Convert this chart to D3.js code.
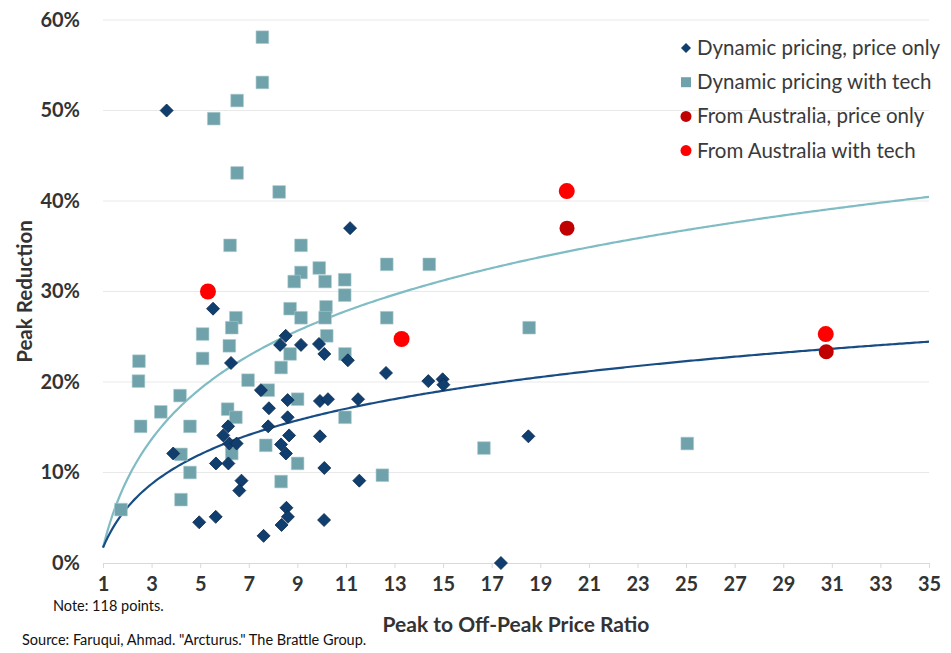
<!DOCTYPE html>
<html>
<head>
<meta charset="utf-8">
<script src="https://cdn.jsdelivr.net/npm/d3@7/dist/d3.min.js"></script>
<style>
  html, body { margin: 0; padding: 0; background: #fff; }
  svg { display: block; font-family: Lato, "Open Sans", sans-serif; }
</style>
</head>
<body>
<svg id="chart" width="951" height="653"></svg>
<script>
// Peak reduction (%) versus peak to off-peak price ratio
const priceOnly = [
  [3.62, 50.0], [17.38, 0.0], [11.17, 37.0], [5.53, 28.1], [6.27, 22.1],
  [8.52, 25.1], [8.29, 24.1], [9.15, 24.1], [9.89, 24.2], [10.11, 23.1],
  [11.08, 22.4], [7.50, 19.1], [7.83, 17.1], [8.60, 18.0], [9.93, 17.9],
  [10.26, 18.1], [11.50, 18.1], [6.15, 15.1], [5.95, 14.1], [6.20, 13.2],
  [6.50, 13.2], [7.80, 15.1], [8.60, 16.1], [8.66, 14.1], [8.33, 13.1],
  [8.53, 12.1], [9.93, 14.0], [3.89, 12.1], [5.65, 11.0], [6.16, 11.0],
  [10.11, 10.5], [6.70, 9.1], [6.61, 8.0], [8.55, 6.1], [8.61, 5.1],
  [8.35, 4.2], [4.96, 4.5], [5.64, 5.1], [10.10, 4.75], [7.61, 3.0],
  [12.65, 21.0], [14.39, 20.1], [14.98, 20.3], [15.01, 19.7], [18.51, 14.0],
  [11.55, 9.1]
];
const withTech = [
  [7.56, 58.1], [7.56, 53.1], [6.52, 51.1], [5.56, 49.1], [6.52, 43.1],
  [8.25, 41.0], [6.23, 35.1], [9.15, 35.1], [9.15, 32.1], [8.87, 31.1],
  [9.90, 32.6], [10.14, 31.1], [10.95, 31.3], [10.95, 29.6], [6.47, 27.1],
  [6.30, 26.0], [8.70, 28.1], [9.15, 27.1], [10.18, 28.3], [10.14, 27.1],
  [5.10, 25.3], [10.21, 25.1], [6.20, 24.0], [5.10, 22.6], [8.70, 23.1],
  [10.96, 23.1], [8.33, 21.6], [2.48, 22.3], [2.46, 20.1], [6.97, 20.2],
  [7.80, 19.1], [9.01, 18.1], [6.13, 17.0], [6.47, 16.1], [4.17, 18.5],
  [3.38, 16.7], [2.55, 15.1], [4.58, 15.1], [10.96, 16.1], [7.70, 13.0],
  [6.30, 12.1], [9.01, 11.0], [4.58, 10.0], [8.33, 9.0], [4.21, 7.0],
  [1.74, 5.9], [4.21, 12.0], [12.68, 33.0], [14.43, 33.0], [12.68, 27.1],
  [18.54, 26.0], [16.68, 12.7], [12.50, 9.7], [25.05, 13.2]
];
const australiaPriceOnly = [[20.1, 37.0], [30.77, 23.35]];
const australiaWithTech = [[5.32, 30.0], [13.29, 24.75], [20.09, 41.1], [30.75, 25.3]];

// logarithmic trendlines: y = a + b * ln(x)
const trendPriceOnly = { a: 1.7, b: 6.4 };
const trendWithTech = { a: 1.7, b: 10.9 };

const xTicks = d3.range(1, 36, 2);
const yTicks = [0, 10, 20, 30, 40, 50, 60];

const seriesNames = [
  "Dynamic pricing, price only",
  "Dynamic pricing with tech",
  "From Australia, price only",
  "From Australia with tech"
];

const svg = d3.select("#chart");
const margin = { left: 103, right: 22, top: 20, bottom: 90 };
const W = 951, H = 653;

const x = d3.scaleLinear().domain([1, 35]).range([margin.left, W - margin.right]);
const y = d3.scaleLinear().domain([0, 60]).range([H - margin.bottom, margin.top]);

const colors = {
  diamond: "#0f3e6f",
  diamondStroke: "#0a2a4c",
  square: "#6fa2aa",
  darkRed: "#c00000",
  red: "#ff0000",
  lineDark: "#174d84",
  lineLight: "#7fbcc4"
};

// horizontal gridlines
svg.append("g")
  .selectAll("line")
  .data(yTicks.filter(d => d > 0))
  .join("line")
  .attr("x1", x(1)).attr("x2", x(35))
  .attr("y1", d => y(d)).attr("y2", d => y(d))
  .attr("stroke", "#e9e9e9").attr("stroke-width", 1);

// x axis
const xAxis = svg.append("g")
  .attr("transform", `translate(0,${y(0)})`)
  .call(d3.axisBottom(x).tickValues(xTicks).tickSize(5).tickPadding(9).tickFormat(d3.format("d")));
xAxis.select(".domain").attr("stroke", "#d9d9d9");
xAxis.selectAll(".tick line").attr("stroke", "#d9d9d9");
xAxis.selectAll(".tick text")
  .attr("fill", "#333").attr("font-size", 20).attr("font-weight", "bold")
  .attr("font-family", "Lato, sans-serif");

// y axis
const yAxis = svg.append("g")
  .attr("transform", `translate(${x(1)},0)`)
  .call(d3.axisLeft(y).tickValues(yTicks).tickSize(0).tickPadding(23).tickFormat(d => d + "%"));
yAxis.select(".domain").remove();
yAxis.selectAll(".tick text")
  .attr("fill", "#333").attr("font-size", 20).attr("font-weight", "bold")
  .attr("font-family", "Lato, sans-serif");

// trendlines
const xs = d3.range(1, 35.001, 0.1);
const line = d3.line().x(d => x(d[0])).y(d => y(d[1]));
svg.append("path")
  .datum(xs.map(v => [v, trendWithTech.a + trendWithTech.b * Math.log(v)]))
  .attr("d", line).attr("fill", "none")
  .attr("stroke", colors.lineLight).attr("stroke-width", 2.2);
svg.append("path")
  .datum(xs.map(v => [v, trendPriceOnly.a + trendPriceOnly.b * Math.log(v)]))
  .attr("d", line).attr("fill", "none")
  .attr("stroke", colors.lineDark).attr("stroke-width", 2.2);

// markers
const squareSym = d3.symbol().type(d3.symbolSquare).size(160);
const diamondSize = 6.5;
const diamondPath = `M0,${-diamondSize}L${diamondSize},0L0,${diamondSize}L${-diamondSize},0Z`;

svg.append("g").selectAll("path")
  .data(withTech)
  .join("path")
  .attr("d", squareSym)
  .attr("transform", d => `translate(${x(d[0])},${y(d[1])})`)
  .attr("fill", colors.square)
  .attr("stroke", "#a9c9ce").attr("stroke-width", 0.6);

svg.append("g").selectAll("path")
  .data(priceOnly)
  .join("path")
  .attr("d", diamondPath)
  .attr("transform", d => `translate(${x(d[0])},${y(d[1])})`)
  .attr("fill", colors.diamond)
  .attr("stroke", colors.diamondStroke).attr("stroke-width", 0.8);

svg.append("g").selectAll("circle")
  .data(australiaPriceOnly)
  .join("circle")
  .attr("cx", d => x(d[0])).attr("cy", d => y(d[1])).attr("r", 7.5)
  .attr("fill", colors.darkRed);

svg.append("g").selectAll("circle")
  .data(australiaWithTech)
  .join("circle")
  .attr("cx", d => x(d[0])).attr("cy", d => y(d[1])).attr("r", 8)
  .attr("fill", colors.red);

// legend
const legend = svg.append("g").attr("transform", "translate(686,48)");
seriesNames.forEach((name, i) => {
  const g = legend.append("g").attr("transform", `translate(0,${i * 34.2})`);
  if (i === 0) {
    g.append("path").attr("d", "M0,-5L5,0L0,5L-5,0Z").attr("fill", colors.diamond);
  } else if (i === 1) {
    g.append("rect").attr("x", -5).attr("y", -5).attr("width", 10).attr("height", 10).attr("fill", colors.square);
  } else {
    g.append("circle").attr("r", 5.5).attr("fill", i === 2 ? colors.darkRed : colors.red);
  }
  g.append("text")
    .attr("x", 11).attr("y", 7)
    .attr("font-size", 20.5).attr("fill", "#3a3a3a")
    .attr("font-family", "Lato, sans-serif")
    .text(name);
});

// axis titles
svg.append("text")
  .attr("transform", `translate(32,${(y(0) + y(60)) / 2}) rotate(-90)`)
  .attr("text-anchor", "middle")
  .attr("font-size", 20.5).attr("font-weight", "bold").attr("fill", "#333")
  .text("Peak Reduction");

svg.append("text")
  .attr("x", (x(1) + x(35)) / 2).attr("y", 632)
  .attr("text-anchor", "middle")
  .attr("font-size", 21).attr("font-weight", "bold").attr("fill", "#333")
  .text("Peak to Off-Peak Price Ratio");

// notes
svg.append("text")
  .attr("x", 53).attr("y", 611)
  .attr("font-size", 14.5).attr("fill", "#111")
  .text("Note: 118 points.");
svg.append("text")
  .attr("x", 22).attr("y", 645)
  .attr("font-size", 14.5).attr("fill", "#111")
  .text("Source: Faruqui, Ahmad. \"Arcturus.\" The Brattle Group.");
</script>
</body>
</html>
